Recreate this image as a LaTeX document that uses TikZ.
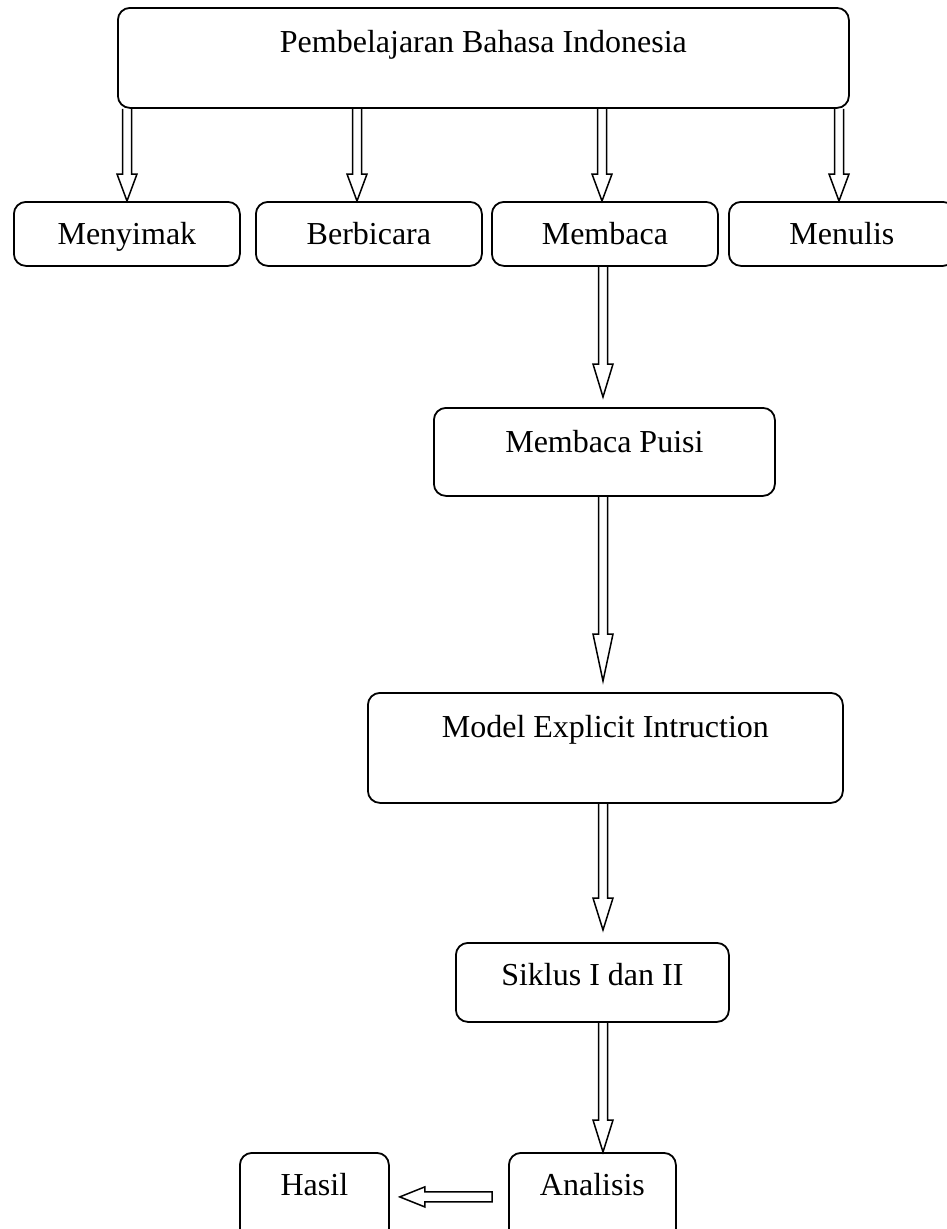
\documentclass[tikz,border=0pt]{standalone}
\usepackage{fontspec}
\setmainfont{Liberation Serif}
\usetikzlibrary{calc}

\tikzset{
  box/.style={draw, line width=1.8pt, rounded corners=12pt, inner sep=0pt,
    anchor=north west, font=\fontsize{32}{38}\selectfont},
  barrow/.style={draw, line width=1.5pt, line join=miter}
}

\newcommand{\dnarrow}[4]{%
  \draw[barrow] let \p1=(#2), \p2=(#3) in
    (#1pt-4.5pt,\y1) -- (#1pt-4.5pt,\y2+#4pt) -- (#1pt-10pt,\y2+#4pt) -- (#1pt,\y2)
    -- (#1pt+10pt,\y2+#4pt) -- (#1pt+4.5pt,\y2+#4pt) -- (#1pt+4.5pt,\y1);
}

\begin{document}
\begin{tikzpicture}[x=1pt, y=1pt]
  \useasboundingbox (0,0) rectangle (946,-1229);

  \node[box, minimum width=731pt, text height=45pt, text depth=55pt] (pbi) at (117,-7) {Pembelajaran Bahasa Indonesia};
  \node[box, minimum width=226pt, text height=43pt, text depth=21pt] (menyimak) at (13,-201) {Menyimak};
  \node[box, minimum width=226pt, text height=43pt, text depth=21pt] (berbicara) at (255,-201) {Berbicara};
  \node[box, minimum width=226pt, text height=43pt, text depth=21pt] (membaca) at (491,-201) {Membaca};
  \node[box, minimum width=226pt, text height=43pt, text depth=21pt] (menulis) at (728,-201) {Menulis};
  \node[box, minimum width=341pt, text height=45pt, text depth=43pt] (puisi) at (433,-407) {Membaca Puisi};
  \node[box, minimum width=475pt, text height=45pt, text depth=65pt] (model) at (367,-692) {Model Explicit Intruction};
  \node[box, minimum width=273pt, text height=43pt, text depth=36pt] (siklus) at (455,-942) {Siklus I dan II};
  \node[box, minimum width=167pt, text height=43pt, text depth=45pt] (analisis) at (508,-1152) {Analisis};
  \node[box, minimum width=149pt, text height=43pt, text depth=45pt] (hasil) at (239,-1152) {Hasil};

  \dnarrow{127}{pbi.south}{menyimak.north}{27}
  \dnarrow{357}{pbi.south}{berbicara.north}{27}
  \dnarrow{602}{pbi.south}{membaca.north}{27}
  \dnarrow{839}{pbi.south}{menulis.north}{27}
  \dnarrow{603}{membaca.south}{$(puisi.north)+(0,10)$}{33}
  \dnarrow{603}{puisi.south}{$(model.north)+(0,11)$}{47}
  \dnarrow{603}{model.south}{$(siklus.north)+(0,12)$}{32}
  \dnarrow{603}{siklus.south}{analisis.north}{32}

  \draw[barrow] let \p1=($(analisis.west)+(-16,0)$), \p2=($(hasil.east)+(10,0)$) in
    (\x1,\y1+5pt) -- (\x2+25pt,\y1+5pt) -- (\x2+25pt,\y1+10pt) -- (\x2,\y1)
    -- (\x2+25pt,\y1-10pt) -- (\x2+25pt,\y1-5pt) -- (\x1,\y1-5pt) -- cycle;
\end{tikzpicture}
\end{document}
